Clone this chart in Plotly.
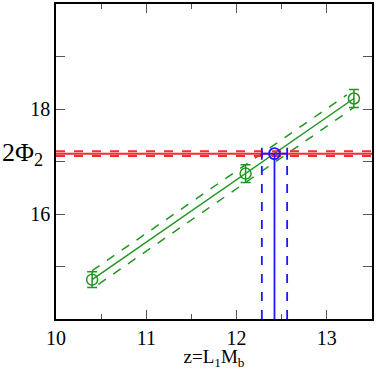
import plotly.graph_objects as go

# lattice points
z_data = [10.4, 12.1, 13.3]
phi_data = [14.75, 16.77, 18.20]
phi_err = [0.15, 0.17, 0.17]

# linear fit and its error band
fit_z = [10.4, 13.3]
fit_phi = [14.75, 18.20]
band_up_z = [10.4, 13.22]
band_up_phi = [14.92, 18.27]
band_lo_z = [10.47, 13.3]
band_lo_phi = [14.66, 18.03]

# continuum value of 2*Phi_2 (red band)
phi_cont = 17.15
phi_cont_err = 0.045

# resulting z (blue)
z_res = 12.42
z_res_err = 0.14

green = "#1f961f"
red = "#ff2a2a"
blue = "#1a1aff"

fig = go.Figure()

fig.add_trace(go.Scatter(x=fit_z, y=fit_phi, mode="lines",
                         line=dict(color=green, width=1.5)))
fig.add_trace(go.Scatter(x=band_up_z, y=band_up_phi, mode="lines",
                         line=dict(color=green, width=1.5, dash="dash")))
fig.add_trace(go.Scatter(x=band_lo_z, y=band_lo_phi, mode="lines",
                         line=dict(color=green, width=1.5, dash="dash")))

xr = [10, 13.5]
fig.add_trace(go.Scatter(x=xr, y=[phi_cont + phi_cont_err] * 2, mode="lines",
                         line=dict(color=red, width=2, dash="dash")))
fig.add_trace(go.Scatter(x=xr, y=[phi_cont] * 2, mode="lines",
                         line=dict(color=red, width=2)))
fig.add_trace(go.Scatter(x=xr, y=[phi_cont - phi_cont_err] * 2, mode="lines",
                         line=dict(color=red, width=2, dash="dash")))

fig.add_trace(go.Scatter(x=[z_res, z_res], y=[14, phi_cont], mode="lines",
                         line=dict(color=blue, width=1.8)))
for zz in [z_res - z_res_err, z_res + z_res_err]:
    fig.add_trace(go.Scatter(x=[zz, zz], y=[14, phi_cont], mode="lines",
                             line=dict(color=blue, width=1.8, dash="dash")))

fig.add_trace(go.Scatter(x=z_data, y=phi_data, mode="markers",
                         marker=dict(symbol="circle-open", size=11, color=green,
                                     line=dict(width=1.5)),
                         error_y=dict(type="data", array=phi_err, color=green,
                                      thickness=1.5, width=5)))

fig.add_trace(go.Scatter(x=[z_res], y=[phi_cont], mode="markers",
                         marker=dict(symbol="circle-open", size=11, color=blue,
                                     line=dict(width=1.8)),
                         error_x=dict(type="data", array=[z_res_err], color=blue,
                                      thickness=1.8, width=6)))

font = "Times New Roman, Liberation Serif, serif"
fig.update_layout(
    width=376, height=370,
    margin=dict(l=56, r=2, t=2, b=51),
    plot_bgcolor="white", paper_bgcolor="white",
    showlegend=False,
    font=dict(family=font, size=20, color="black"),
    xaxis=dict(range=xr, tickvals=[10, 11, 12, 13], ticks="inside", ticklen=9,
               tickwidth=1.2, tickcolor="#555", showgrid=False, zeroline=False,
               showline=True, linecolor="black", linewidth=1.5, mirror="allticks",
               minor=dict(dtick=0.5, ticks="inside", ticklen=5, tickcolor="#555"),
               tickfont=dict(family=font, size=20),
               title=dict(text="z=L<sub>1</sub>M<sub>b</sub>",
                          font=dict(family=font, size=19), standoff=4)),
    yaxis=dict(range=[14, 20], tickvals=[16, 18],
               ticks="inside", ticklen=9, tickwidth=1.2, tickcolor="#555",
               showgrid=False, zeroline=False,
               showline=True, linecolor="black", linewidth=1.5, mirror="allticks",
               tickfont=dict(family=font, size=20),
               minor=dict(dtick=1, ticks="inside", ticklen=9, tickcolor="#555")),
)

fig.add_annotation(text="2Φ<sub>2</sub>", xref="paper", yref="y", x=0, y=phi_cont,
                   xanchor="right", xshift=-11, showarrow=False,
                   font=dict(size=26, family=font))

fig.write_html("out.html", config={"displayModeBar": False},
               post_script="document.body.style.margin='0';")
